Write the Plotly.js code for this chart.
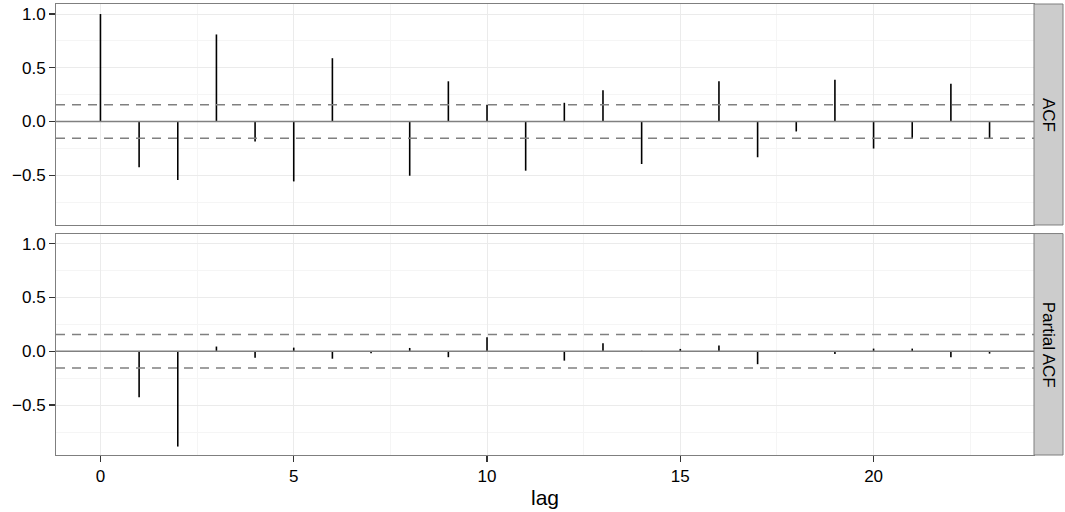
<!DOCTYPE html>
<html><head><meta charset="utf-8">
<script src="https://cdn.plot.ly/plotly-3.0.1.min.js"></script>
<style>html,body{margin:0;padding:0;background:#fff}#plot{width:1065px;height:512px}</style>
</head><body><div id="plot"></div>
<script>
const lags = [0,1,2,3,4,5,6,7,8,9,10,11,12,13,14,15,16,17,18,19,20,21,22,23];
const acfValues = [1.0,-0.427,-0.545,0.81,-0.187,-0.558,0.589,0.004,-0.505,0.374,0.156,-0.458,
  0.174,0.29,-0.396,0.004,0.374,-0.333,-0.093,0.389,-0.252,-0.159,0.352,-0.156];
const pacfLags = [1,2,3,4,5,6,7,8,9,10,11,12,13,14,15,16,17,18,19,20,21,22,23];
const pacfValues = [-0.427,-0.885,0.044,-0.059,0.034,-0.069,-0.019,0.031,-0.055,0.13,0.002,
  -0.087,0.075,0.004,0.022,0.053,-0.12,0.002,-0.025,0.025,0.025,-0.055,-0.022];
const ciBound = 0.156;
const panelNames = ["ACF","Partial ACF"];

const FONT = 'Liberation Sans, Arial, sans-serif';
function stems(xs, ys){
  const x=[], y=[];
  xs.forEach((v,i)=>{ x.push(v,v,null); y.push(0,ys[i],null); });
  return {x,y};
}
const s1 = stems(lags, acfValues), s2 = stems(pacfLags, pacfValues);
const traces = [
  {x:s1.x, y:s1.y, xaxis:'x', yaxis:'y', mode:'lines', line:{color:'#000',width:1.6}, hoverinfo:'skip', showlegend:false},
  {x:s2.x, y:s2.y, xaxis:'x2', yaxis:'y2', mode:'lines', line:{color:'#000',width:1.6}, hoverinfo:'skip', showlegend:false}
];
const shapes = [];
[['x','y'],['x2','y2']].forEach(([xa,ya])=>{
  shapes.push({type:'line', xref:xa+' domain', x0:0, x1:1, yref:ya, y0:0, y1:0, line:{color:'#808080',width:1.6}});
  [ciBound,-ciBound].forEach(c=>shapes.push({type:'line', xref:xa+' domain', x0:0, x1:1, yref:ya, y0:c, y1:c, line:{color:'#808080',width:1.6,dash:'9px,7px'}}));
});
// strips
const stripW = 29/978;
const doms = [[0.51,1],[0,0.491]];
doms.forEach(d=>{
  shapes.push({type:'rect', xref:'paper', yref:'paper', x0:1, x1:1+stripW, y0:d[0], y1:d[1], fillcolor:'#cccccc', line:{color:'#7f7f7f',width:1}});
});
const annotations = panelNames.map((n,i)=>({text:n, xref:'paper', yref:'paper', x:1+stripW/2, y:(doms[i][0]+doms[i][1])/2,
  xanchor:'center', yanchor:'middle', showarrow:false, textangle:90, font:{family:FONT, size:17, color:'#000'}}));
const yax = {range:[-0.9635,1.0935], dtick:0.5, tick0:0, tickformat:'.1f', showgrid:true, gridcolor:'#ebebeb', gridwidth:1,
  minor:{dtick:0.25, tick0:0, showgrid:true, gridcolor:'#f5f5f5', gridwidth:1},
  zeroline:false, showline:true, mirror:true, linecolor:'#7f7f7f', linewidth:1,
  ticks:'outside', ticklen:6, tickwidth:1.2, tickcolor:'#333', tickfont:{family:FONT, size:17, color:'#000'}, fixedrange:true};
const xbase = {range:[-1.15,24.15], dtick:5, tick0:0, showgrid:true, gridcolor:'#ebebeb', gridwidth:1,
  minor:{dtick:2.5, tick0:0, showgrid:true, gridcolor:'#f5f5f5', gridwidth:1},
  zeroline:false, showline:true, mirror:true, linecolor:'#7f7f7f', linewidth:1, fixedrange:true};
const layout = {
  width:1065, height:512, margin:{l:56, r:31, t:4, b:57}, paper_bgcolor:'#fff', plot_bgcolor:'#fff',
  font:{family:FONT, color:'#000'},
  xaxis: Object.assign({}, xbase, {domain:[0,1], anchor:'y', showticklabels:false, ticks:'', matches:'x2'}),
  yaxis: Object.assign({}, yax, {domain:doms[0], anchor:'x'}),
  xaxis2: Object.assign({}, xbase, {domain:[0,1], anchor:'y2', ticks:'outside', ticklen:6, tickwidth:1.2, tickcolor:'#333',
    tickfont:{family:FONT, size:17, color:'#000'},
    title:{text:'lag', font:{family:FONT, size:21, color:'#000'}, standoff:4}}),
  yaxis2: Object.assign({}, yax, {domain:doms[1], anchor:'x2'}),
  shapes, annotations, showlegend:false
};
Plotly.newPlot('plot', traces, layout, {staticPlot:true});
</script></body></html>
